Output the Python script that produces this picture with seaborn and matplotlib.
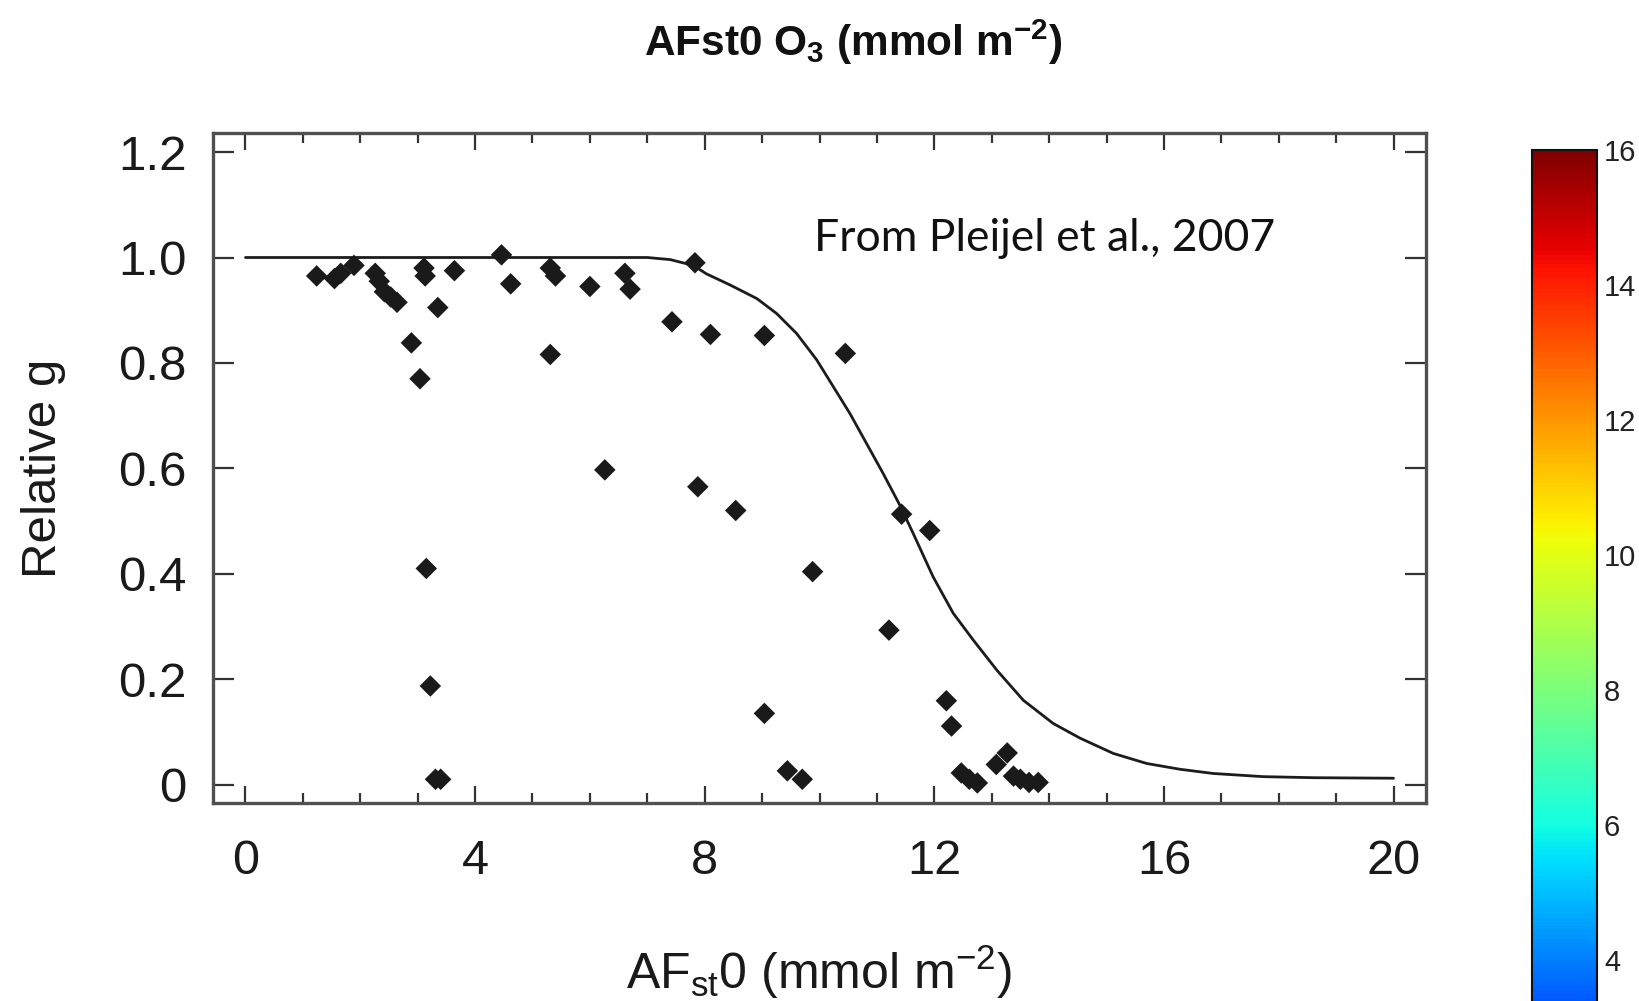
import numpy as np
import pandas as pd
import matplotlib
matplotlib.use("Agg")
import matplotlib.pyplot as plt
import matplotlib.colors as mcolors
import matplotlib.cm as cm
import seaborn as sns

# ---- data ----
afst_values = [1.24, 1.55, 1.66, 1.89, 2.26, 2.33, 2.42, 2.53, 2.64, 2.89, 3.04, 3.11, 3.13,
               3.15, 3.22, 3.31, 3.40, 3.35, 3.64, 4.46, 4.62, 5.31, 5.40, 5.31, 6.00, 6.26,
               6.61, 6.70, 7.43, 7.83, 7.88, 8.10, 8.54, 9.04, 9.04, 9.44, 9.70, 9.88, 10.45,
               11.21, 11.43, 11.92, 12.21, 12.30, 12.47, 12.61, 12.75, 13.08, 13.27, 13.38,
               13.50, 13.65, 13.81]
rel_g_values = [0.965, 0.96, 0.97, 0.985, 0.97, 0.955, 0.935, 0.925, 0.915, 0.838, 0.77, 0.98,
                0.965, 0.41, 0.187, 0.01, 0.01, 0.905, 0.975, 1.005, 0.95, 0.98, 0.965, 0.816,
                0.945, 0.597, 0.97, 0.94, 0.878, 0.99, 0.565, 0.854, 0.52, 0.852, 0.135, 0.026,
                0.01, 0.404, 0.818, 0.293, 0.513, 0.482, 0.159, 0.111, 0.022, 0.01, 0.003,
                0.038, 0.06, 0.016, 0.01, 0.004, 0.004]

curve_x = [0.0, 7.0, 7.4, 7.8, 8.03, 8.44, 8.91, 9.25, 9.60, 9.95, 10.24, 10.53, 10.82,
           11.11, 11.40, 11.63, 11.98, 12.33, 12.68, 13.09, 13.55, 14.07, 14.54, 15.12,
           15.70, 16.28, 16.86, 17.73, 18.60, 20.0]
curve_y = [1.0, 1.0, 0.996, 0.985, 0.969, 0.948, 0.922, 0.894, 0.856, 0.806, 0.755, 0.704,
           0.647, 0.590, 0.530, 0.477, 0.394, 0.325, 0.274, 0.217, 0.160, 0.116, 0.088,
           0.059, 0.040, 0.029, 0.021, 0.015, 0.013, 0.012]

x_ticks = [0, 4, 8, 12, 16, 20]
y_ticks = [0, 0.2, 0.4, 0.6, 0.8, 1.0, 1.2]
y_tick_labels = ["0", "0.2", "0.4", "0.6", "0.8", "1.0", "1.2"]
cbar_ticks = [4, 6, 8, 10, 12, 14, 16]

title_text = r"AFst0 O$_{\mathbf{3}}$ (mmol m$^{\mathbf{-2}}$)"
xlabel_text = r"AF$_{\mathrm{st}}$0 (mmol m$^{\mathrm{-2}}$)"
ylabel_text = "Relative g"
note_text = "From Pleijel et al., 2007"

# ---- styling ----
sns.set_style("ticks")
plt.rcParams["font.family"] = ["Liberation Sans", "DejaVu Sans"]
plt.rcParams["mathtext.fontset"] = "custom"
plt.rcParams["mathtext.rm"] = "Liberation Sans"
plt.rcParams["mathtext.it"] = "Liberation Sans:italic"
plt.rcParams["mathtext.bf"] = "Liberation Sans:bold"

W, H = 1639, 1001
fig = plt.figure(figsize=(W / 100, H / 100), dpi=100)
fig.patch.set_facecolor("white")

ax_l, ax_r, ax_t, ax_b = 213, 1426, 132.8, 803
ax = fig.add_axes([ax_l / W, 1 - ax_b / H, (ax_r - ax_l) / W, (ax_b - ax_t) / H])

points = pd.DataFrame({"AFst0": afst_values, "g": rel_g_values})
curve = pd.DataFrame({"AFst0": curve_x, "g": curve_y})

sns.lineplot(data=curve, x="AFst0", y="g", ax=ax, color="#1c1c1c", linewidth=2.0,
             estimator=None, sort=False, zorder=2)
sns.scatterplot(data=points, x="AFst0", y="g", ax=ax, marker="D", s=120,
                color="#1a1a1a", edgecolor="none", zorder=3)

ax.set_xlim(-0.566, 20.566)
ax.set_ylim(-0.035, 1.2366)
ax.set_xticks(x_ticks)
ax.set_xticklabels([str(t) for t in x_ticks])
ax.set_xticks(np.arange(0, 21, 1), minor=True)
ax.set_yticks(y_ticks)
ax.set_yticklabels(y_tick_labels)

ax.tick_params(axis="both", which="both", direction="in", top=True, right=True,
               color="#333333", width=1.6)
ax.tick_params(axis="x", which="major", length=12, labelsize=35, pad=26, labelcolor="#1a1a1a")
ax.tick_params(axis="x", which="minor", length=7)
ax.tick_params(axis="y", which="major", length=15, labelsize=35.5, pad=19, labelcolor="#1a1a1a")

for side, sp in ax.spines.items():
    sp.set_color("#505050")
    sp.set_linewidth(2.4)

ax.set_xlabel(xlabel_text, fontsize=36, color="#1a1a1a")
ax.xaxis.label.set_va("center")
ax.xaxis.set_label_coords(0.5, (ax_b - 972) / (ax_b - ax_t))
ax.set_ylabel(ylabel_text, fontsize=35.5, color="#1a1a1a")
ax.yaxis.label.set_va("center")
ax.yaxis.set_label_coords((44 - ax_l) / (ax_r - ax_l), 0.5)

ax.text(9.9, 1.012, note_text, fontsize=32, family=["Lato", "DejaVu Sans"],
        ha="left", va="baseline", color="#111111")

fig.text(853 / W, 1 - 42 / H, title_text, fontsize=30.5, fontweight="bold",
         ha="center", va="center", color="#111111")

# ---- colorbar (cropped at the bottom of the figure, as in the reference) ----
cb_left, cb_right, cb_top = 1532, 1597, 150
px_per_unit = 67.5
vmin, vmax = 0, 16
cb_bottom = cb_top + (vmax - vmin) * px_per_unit
cax = fig.add_axes([cb_left / W, 1 - cb_bottom / H, (cb_right - cb_left) / W,
                    (cb_bottom - cb_top) / H])
sm = cm.ScalarMappable(norm=mcolors.Normalize(vmin=vmin, vmax=vmax), cmap="jet")
cb = fig.colorbar(sm, cax=cax)
cb.set_ticks(cbar_ticks)
cb.outline.set_edgecolor("#111111")
cb.outline.set_linewidth(1.5)
cax.tick_params(direction="in", left=True, right=True, length=9, width=1.4,
                color="#222222", labelsize=21, pad=5, labelcolor="#222222")

fig.savefig("out.png", dpi=100, facecolor="white")
